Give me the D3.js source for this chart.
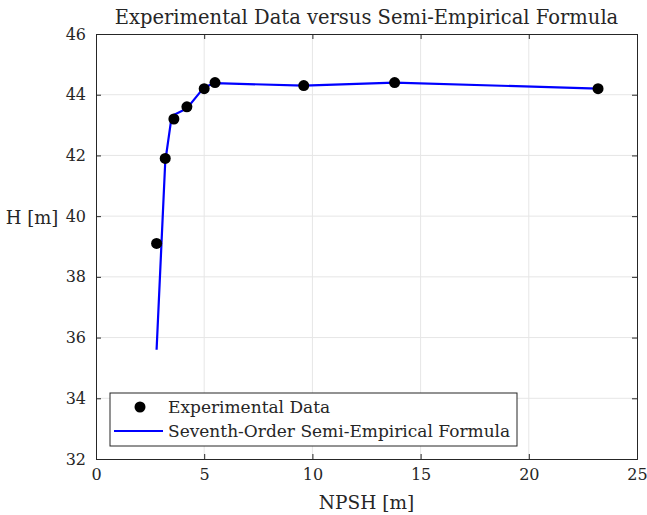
<!DOCTYPE html>
<html><head><meta charset="utf-8">
<script src="https://cdn.jsdelivr.net/npm/d3@7"></script>
<style>body{margin:0;background:#fff}svg{display:block}text{font-family:"DejaVu Serif",serif;fill:#262626}</style>
</head><body><svg id="c" width="647" height="515"></svg>
<script>
const expX = [2.8, 3.2, 3.6, 4.2, 5.0, 5.5, 9.6, 13.8, 23.2];
const expY = [39.1, 41.9, 43.2, 43.6, 44.2, 44.4, 44.3, 44.4, 44.2];
const fitX = [2.8, 3.2, 3.5, 4.2, 5.0, 5.5, 9.6, 13.8, 23.2];
const fitY = [35.6, 41.8, 43.3, 43.55, 44.25, 44.38, 44.3, 44.4, 44.2];
const xTicks = [0, 5, 10, 15, 20, 25];
const yTicks = [32, 34, 36, 38, 40, 42, 44, 46];
const titleText = "Experimental Data versus Semi-Empirical Formula";
const xLabel = "NPSH [m]", yLabel = "H [m]";
const legendLabels = ["Experimental Data", "Seventh-Order Semi-Empirical Formula"];

const FONT = '"DejaVu Serif",serif';
const svg = d3.select("#c");
const L = 96, R = 637, T = 34, B = 459;
const x = d3.scaleLinear().domain([0, 25]).range([L, R]);
const y = d3.scaleLinear().domain([32, 46]).range([B, T]);

// grid
svg.append("g").selectAll("line").data(xTicks.slice(1, -1)).join("line")
  .attr("x1", d => x(d)).attr("x2", d => x(d)).attr("y1", T).attr("y2", B)
  .attr("stroke", "#e6e6e6").attr("stroke-width", 1);
svg.append("g").selectAll("line").data(yTicks.slice(1, -1)).join("line")
  .attr("y1", d => y(d)).attr("y2", d => y(d)).attr("x1", L).attr("x2", R)
  .attr("stroke", "#e6e6e6").attr("stroke-width", 1);

// axes
const ax = svg.append("g").attr("transform", `translate(0,${B})`)
  .call(d3.axisBottom(x).tickValues(xTicks).tickSize(-5).tickPadding(10));
const ay = svg.append("g").attr("transform", `translate(${L},0)`)
  .call(d3.axisLeft(y).tickValues(yTicks).tickSize(-5).tickPadding(10));
const at = svg.append("g").attr("transform", `translate(0,${T})`)
  .call(d3.axisTop(x).tickValues(xTicks).tickSize(-5).tickFormat(""));
const ar = svg.append("g").attr("transform", `translate(${R},0)`)
  .call(d3.axisRight(y).tickValues(yTicks).tickSize(-5).tickFormat(""));
[ax, ay, at, ar].forEach(g => {
  g.select(".domain").attr("stroke", "#262626").attr("stroke-width", 1);
  g.selectAll(".tick line").attr("stroke", "#262626");
  g.selectAll(".tick text").style("font-size", "16px").attr("fill", "#262626")
    .style("font-family", FONT);
});

// line
svg.append("path").datum(fitX.map((d, i) => [d, fitY[i]]))
  .attr("d", d3.line().x(d => x(d[0])).y(d => y(d[1])))
  .attr("fill", "none").attr("stroke", "#0000ff").attr("stroke-width", 2.2);

// points
svg.append("g").selectAll("circle").data(expX.map((d, i) => [d, expY[i]])).join("circle")
  .attr("cx", d => x(d[0])).attr("cy", d => y(d[1])).attr("r", 5.5).attr("fill", "#000");

// title & labels
svg.append("text").attr("x", (L + R) / 2).attr("y", 24).attr("text-anchor", "middle")
  .style("font-size", "19.5px").attr("fill", "#000").text(titleText);
svg.append("text").attr("x", (L + R) / 2).attr("y", 509).attr("text-anchor", "middle")
  .style("font-size", "18.5px").text(xLabel);
svg.append("text").attr("x", 32).attr("y", 224).attr("text-anchor", "middle")
  .style("font-size", "18px").text(yLabel);

// legend
const lg = svg.append("g");
lg.append("rect").attr("x", 110).attr("y", 393).attr("width", 407).attr("height", 53)
  .attr("fill", "#fff").attr("stroke", "#262626").attr("stroke-width", 1);
lg.append("circle").attr("cx", 140).attr("cy", 407).attr("r", 5.5).attr("fill", "#000");
lg.append("line").attr("x1", 114).attr("x2", 163).attr("y1", 431).attr("y2", 431)
  .attr("stroke", "#0000ff").attr("stroke-width", 2.2);
lg.append("text").attr("x", 168).attr("y", 413).style("font-size", "17px").attr("fill", "#000").text(legendLabels[0]);
lg.append("text").attr("x", 168).attr("y", 437).style("font-size", "17px").attr("fill", "#000").text(legendLabels[1]);
</script></body></html>
